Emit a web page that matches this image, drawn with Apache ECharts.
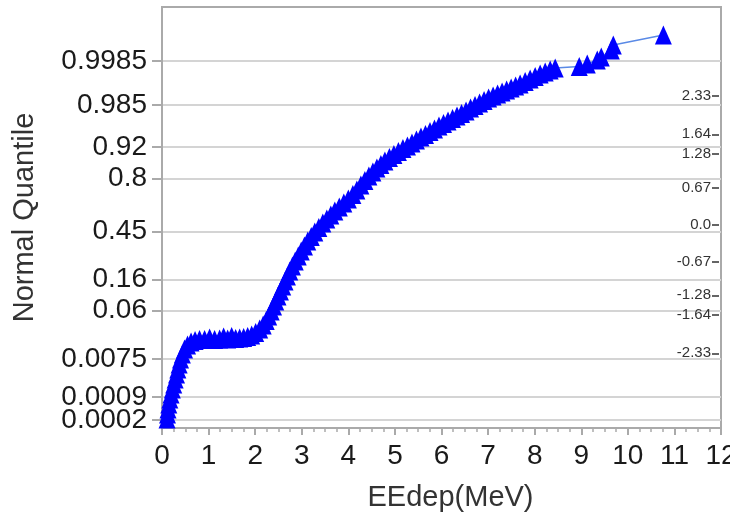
<!DOCTYPE html>
<html>
<head>
<meta charset="utf-8">
<title>Normal Quantile Plot</title>
<script src="https://cdn.jsdelivr.net/npm/echarts@6/dist/echarts.min.js"></script>
<style>
  html, body { margin: 0; padding: 0; background: #fff; }
  #chart { width: 730px; height: 519px; }
</style>
</head>
<body>
<div id="chart"></div>
<script>
// EEdep (MeV), sorted
const eedep = [
  0.108, 0.118, 0.129, 0.146, 0.168, 0.194, 0.222, 0.252, 0.282, 0.312,
  0.340, 0.368, 0.398, 0.437, 0.484, 0.548, 0.624, 0.710, 0.806, 0.914,
  1.022, 1.129, 1.237, 1.323, 1.409, 1.495, 1.581, 1.667, 1.753, 1.839,
  1.925, 2.011, 2.097, 2.172, 2.237, 2.290, 2.344, 2.394, 2.441, 2.490,
  2.542, 2.591, 2.641, 2.692, 2.742, 2.800, 2.860, 2.925, 2.989, 3.058,
  3.129, 3.204, 3.280, 3.366, 3.452, 3.538, 3.624, 3.710, 3.806, 3.903,
  4.000, 4.097, 4.183, 4.269, 4.355, 4.441, 4.527, 4.613, 4.699, 4.785,
  4.882, 4.978, 5.075, 5.172, 5.269, 5.366, 5.462, 5.559, 5.656, 5.753,
  5.849, 5.946, 6.043, 6.140, 6.237, 6.333, 6.430, 6.527, 6.624, 6.720,
  6.817, 6.914, 7.011, 7.108, 7.204, 7.301, 7.398, 7.495, 7.591, 7.688,
  7.796, 7.903, 8.011, 8.118, 8.226, 8.333, 8.441, 8.957, 9.129, 9.344,
  9.430, 9.645, 9.688, 10.763
];
// normal quantile (z) of each point
const quantile = [
  -3.522, -3.431, -3.341, -3.250, -3.159, -3.069, -2.978, -2.887, -2.797, -2.706,
  -2.615, -2.525, -2.434, -2.344, -2.253, -2.180, -2.126, -2.099, -2.081, -2.081,
  -2.054, -2.081, -2.072, -2.036, -2.072, -2.027, -2.063, -2.054, -2.044, -2.027,
  -1.999, -1.954, -1.890, -1.818, -1.736, -1.655, -1.564, -1.473, -1.383, -1.292,
  -1.202, -1.111, -1.020, -0.930, -0.839, -0.748, -0.658, -0.567, -0.476, -0.386,
  -0.295, -0.214, -0.132, -0.050, 0.031, 0.104, 0.176, 0.249, 0.321, 0.394,
  0.466, 0.548, 0.629, 0.720, 0.802, 0.883, 0.956, 1.028, 1.092, 1.155,
  1.218, 1.273, 1.327, 1.382, 1.427, 1.481, 1.536, 1.590, 1.635, 1.690,
  1.735, 1.789, 1.835, 1.880, 1.925, 1.971, 2.016, 2.061, 2.116, 2.161,
  2.206, 2.252, 2.297, 2.333, 2.370, 2.406, 2.442, 2.478, 2.514, 2.551,
  2.596, 2.641, 2.687, 2.732, 2.768, 2.805, 2.841, 2.868, 2.913, 2.986,
  3.040, 3.167, 3.258, 3.439
];

// left axis: probability ticks
const probValues = [0.0002, 0.0009, 0.0075, 0.06, 0.16, 0.45, 0.8, 0.92, 0.985, 0.9985];
const probLabels = ['0.0002', '0.0009', '0.0075', '0.06', '0.16', '0.45', '0.8', '0.92', '0.985', '0.9985'];
// right axis: z ticks
const zTicks = [-2.33, -1.64, -1.28, -0.67, 0, 0.67, 1.28, 1.64, 2.33];
const zLabels = ['-2.33', '-1.64', '-1.28', '-0.67', '0.0', '0.67', '1.28', '1.64', '2.33'];

// inverse normal cdf (Acklam)
function invNorm(p) {
  const a = [-3.969683028665376e+01, 2.209460984245205e+02, -2.759285104469687e+02, 1.383577518672690e+02, -3.066479806614716e+01, 2.506628277459239e+00];
  const b = [-5.447609879822406e+01, 1.615858368580409e+02, -1.556989798598866e+02, 6.680131188771972e+01, -1.328068155288572e+01];
  const c = [-7.784894002430293e-03, -3.223964580411365e-01, -2.400758277161838e+00, -2.549732539343734e+00, 4.374664141464968e+00, 2.938163982698783e+00];
  const d = [7.784695709041462e-03, 3.224671290700398e-01, 2.445134137142996e+00, 3.754408661907416e+00];
  const pl = 0.02425;
  let q, r;
  if (p < pl) {
    q = Math.sqrt(-2 * Math.log(p));
    return (((((c[0] * q + c[1]) * q + c[2]) * q + c[3]) * q + c[4]) * q + c[5]) /
      ((((d[0] * q + d[1]) * q + d[2]) * q + d[3]) * q + 1);
  }
  if (p > 1 - pl) {
    q = Math.sqrt(-2 * Math.log(1 - p));
    return -(((((c[0] * q + c[1]) * q + c[2]) * q + c[3]) * q + c[4]) * q + c[5]) /
      ((((d[0] * q + d[1]) * q + d[2]) * q + d[3]) * q + 1);
  }
  q = p - 0.5;
  r = q * q;
  return (((((a[0] * r + a[1]) * r + a[2]) * r + a[3]) * r + a[4]) * r + a[5]) * q /
    (((((b[0] * r + b[1]) * r + b[2]) * r + b[3]) * r + b[4]) * r + 1);
}

const probTicks = probValues.map(invNorm);
// 0.0009 sits too close to 0.0002 for echarts' min-label check, so it gets its own label axis
const mainLabelTicks = probTicks.filter((_, i) => i !== 1);
const extraLabelTicks = [probTicks[1]];

function nearestLabel(v, ticks, labels) {
  let best = 0;
  for (let i = 1; i < ticks.length; i++) {
    if (Math.abs(ticks[i] - v) < Math.abs(ticks[best] - v)) best = i;
  }
  return labels[best];
}

const chart = echarts.init(document.getElementById('chart'));
const fontFamily = '"Liberation Sans", Arial, sans-serif';
const zMin = -3.685;
const zMax = 3.947;

const leftLabelStyle = {
  color: '#1a1a1a', fontSize: 28, fontFamily: fontFamily, margin: 15,
  hideOverlap: false, showMinLabel: true, showMaxLabel: true,
  formatter: v => nearestLabel(v, probTicks, probLabels)
};

const option = {
  animation: false,
  backgroundColor: '#fff',
  grid: {
    left: 162, right: 9, top: 7, bottom: 91,
    show: true,
    borderColor: '#aaaaaa',
    borderWidth: 2,
    containLabel: false,
    outerBoundsMode: 'none'
  },
  xAxis: {
    type: 'value',
    min: 0,
    max: 12,
    interval: 1,
    name: 'EEdep(MeV)',
    nameLocation: 'middle',
    nameGap: 55,
    nameTextStyle: { color: '#333', fontSize: 29, fontFamily: fontFamily, padding: [0, 0, 0, 18] },
    axisLine: { show: true, onZero: false, lineStyle: { color: '#aaaaaa', width: 2 } },
    axisTick: { show: true, length: 7, lineStyle: { color: '#aaaaaa', width: 2 } },
    minorTick: { show: true, splitNumber: 4, length: 4, lineStyle: { color: '#aaaaaa', width: 1.5 } },
    axisLabel: { color: '#1a1a1a', fontSize: 28, fontFamily: fontFamily, margin: 14, showMaxLabel: true, hideOverlap: false },
    splitLine: { show: false }
  },
  yAxis: [
    {
      type: 'value',
      min: zMin,
      max: zMax,
      position: 'left',
      name: 'Normal Quantile',
      nameLocation: 'middle',
      nameGap: 123,
      nameTextStyle: { color: '#333', fontSize: 29, fontFamily: fontFamily },
      axisLine: { show: true, onZero: false, lineStyle: { color: '#aaaaaa', width: 2 } },
      axisTick: { show: true, length: 10, customValues: probTicks, lineStyle: { color: '#aaaaaa', width: 2 } },
      axisLabel: Object.assign({ customValues: mainLabelTicks }, leftLabelStyle),
      splitLine: { show: true, lineStyle: { color: '#d4d4d4', width: 2 } }
    },
    {
      type: 'value',
      min: zMin,
      max: zMax,
      position: 'right',
      offset: -9,
      axisLine: { show: false, onZero: false },
      axisTick: { show: true, inside: false, length: 7, customValues: zTicks, lineStyle: { color: '#333', width: 1.5 } },
      axisLabel: {
        inside: true, color: '#333', fontSize: 15, fontFamily: fontFamily, margin: 1,
        customValues: zTicks, hideOverlap: false,
        formatter: v => nearestLabel(v, zTicks, zLabels)
      },
      splitLine: { show: false }
    },
    {
      type: 'value',
      min: zMin,
      max: zMax,
      position: 'left',
      offset: 0,
      axisLine: { show: false, onZero: false },
      axisTick: { show: false },
      axisLabel: Object.assign({ customValues: extraLabelTicks }, leftLabelStyle),
      splitLine: { show: false }
    }
  ],
  series: [
    {
      type: 'line',
      data: eedep.map((x, i) => [x, quantile[i]]),
      symbol: 'triangle',
      symbolSize: [17, 19],
      showSymbol: true,
      showAllSymbol: true,
      itemStyle: { color: '#0000ff' },
      lineStyle: { color: '#5a8ae6', width: 1.5 },
      emphasis: { disabled: true }
    }
  ]
};

chart.setOption(option);
</script>
</body>
</html>
